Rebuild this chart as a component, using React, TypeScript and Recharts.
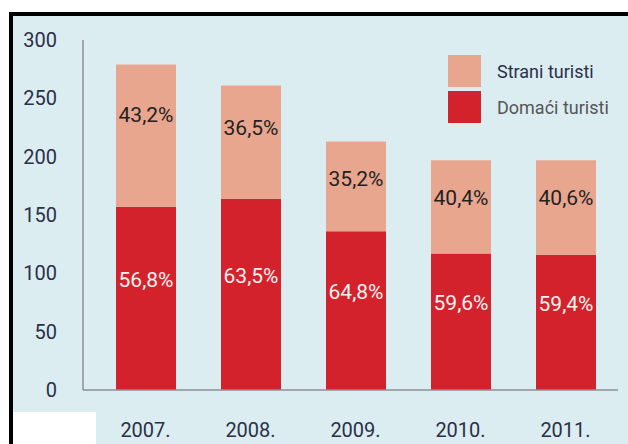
import React from 'react';
import { BarChart, Bar, XAxis, YAxis, Legend, LabelList } from 'recharts';

const years = ['2007.', '2008.', '2009.', '2010.', '2011.'];
const domestic = [157, 164, 136, 117, 116];
const foreign = [122, 97, 77, 80, 81];
const domesticPct = ['56,8%', '63,5%', '64,8%', '59,6%', '59,4%'];
const foreignPct = ['43,2%', '36,5%', '35,2%', '40,4%', '40,6%'];
const yTicks = [0, 50, 100, 150, 200, 250, 300];

const RED = '#d3222b';
const PINK = '#e9a68f';
const FONT = 'Roboto, sans-serif';

const data = years.map((year, i) => ({
  year,
  domestic: domestic[i],
  foreign: foreign[i],
  domesticPct: domesticPct[i],
  foreignPct: foreignPct[i],
}));

// foreign labels sit near the top of the pink part
function ForeignLabel(props: any) {
  const { x, y, width, height, value } = props;
  const cy = y + height * 0.25 + 14;
  return (
    <text x={x + width / 2} y={cy} dy="0.36em" textAnchor="middle"
      fontFamily={FONT} fontSize={21} fill="#222">
      {value}
    </text>
  );
}

function DomesticLabel(props: any) {
  const { x, y, width, height, value } = props;
  const cy = y + height / 2 - 19;
  return (
    <text x={x + width / 2} y={cy} dy="0.36em" textAnchor="middle"
      fontFamily={FONT} fontSize={21} fill="#fff2f2">
      {value}
    </text>
  );
}

function LegendBox() {
  const items = [
    { label: 'Strani turisti', color: PINK, text: '#2b2f48' },
    { label: 'Domaći turisti', color: RED, text: '#555' },
  ];
  return (
    <div>
      {items.map((it) => (
        <div key={it.label} style={{ display: 'flex', alignItems: 'center', height: 32, marginBottom: 4 }}>
          <div style={{ width: 33, height: 32, background: it.color }} />
          <span style={{ marginLeft: 16, fontFamily: FONT, fontSize: 18, color: it.text }}>{it.label}</span>
        </div>
      ))}
    </div>
  );
}

export default function App() {
  return (
    <div style={{ position: 'absolute', left: 0, top: 0, width: 628, height: 444, background: '#fff' }}>
      <div style={{
        position: 'absolute', left: 9, top: 12, width: 619, height: 432,
        borderTop: '4px solid #000', borderLeft: '4px solid #000',
        boxSizing: 'border-box', background: '#dcedf1',
      }} />
      <div style={{ position: 'absolute', left: 13, top: 412, width: 83, height: 32, background: '#fff' }} />
      <div style={{ position: 'absolute', left: 0, top: 0 }}>
        <BarChart width={628} height={444} data={data}
          margin={{ top: 40, right: 10, bottom: 10, left: 0 }}>
          <XAxis dataKey="year" height={44} padding={{ left: 10, right: 0 }}
            axisLine={{ stroke: '#8c9196', strokeWidth: 1.5 }} tickLine={false} tickMargin={27}
            tick={{ fontFamily: FONT, fontSize: 20, fill: '#2b2f48' }} />
          <YAxis width={83} domain={[0, 300]} ticks={yTicks} interval={0}
            axisLine={{ stroke: '#8c9196', strokeWidth: 1.5 }} tickLine={false} tickMargin={20}
            tick={{ fontFamily: FONT, fontSize: 20, fill: '#2b2f48' }} />
          <Legend layout="vertical" align="center" verticalAlign="middle"
            content={() => <LegendBox />}
            wrapperStyle={{ position: 'absolute', left: 448, top: 55, width: 180 }} />
          <Bar dataKey="domestic" stackId="a" fill={RED} barSize={60} isAnimationActive={false}>
            <LabelList dataKey="domesticPct" content={DomesticLabel} />
          </Bar>
          <Bar dataKey="foreign" stackId="a" fill={PINK} barSize={60} isAnimationActive={false}>
            <LabelList dataKey="foreignPct" content={ForeignLabel} />
          </Bar>
        </BarChart>
      </div>
    </div>
  );
}
